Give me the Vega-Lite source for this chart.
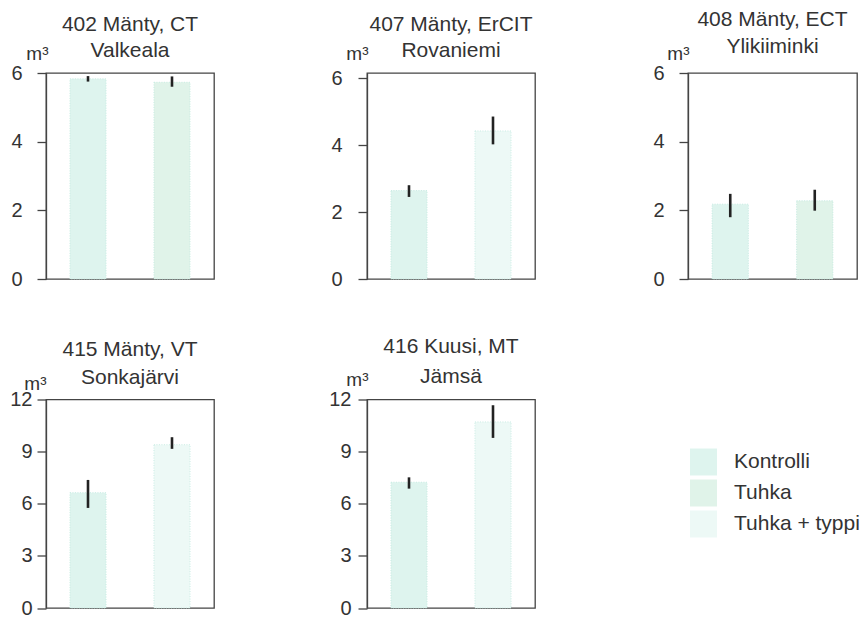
{
  "$schema": "https://vega.github.io/schema/vega-lite/v6.json",
  "padding": {"left": 9, "top": 8, "right": 0, "bottom": 0},
  "background": "white",
  "config": {
    "font": "Liberation Sans",
    "view": {"stroke": "#444444", "strokeWidth": 1.3},
    "axisY": {"grid": false, "tickSize": 9, "tickColor": "#444444", "tickWidth": 1.3, "domainColor": "#444444", "domainWidth": 1.3, "labelFontSize": 20, "labelColor": "#333333", "labelFont": "Liberation Sans", "titleFont": "Liberation Sans", "titleFontSize": 19, "titleFontWeight": "normal", "titleColor": "#333333", "titleAngle": 0, "titleAlign": "right", "titleBaseline": "alphabetic"},
    "title": {"fontSize": 21, "font": "Liberation Sans", "fontWeight": "normal", "color": "#333333", "frame": "group", "anchor": "middle"}
  },
  "datasets": {
    "bars": [
      {"site": "402", "treatment": "Kontrolli", "value": 5.83, "lo": 5.75, "hi": 5.91},
      {"site": "402", "treatment": "Tuhka", "value": 5.73, "lo": 5.6, "hi": 5.9},
      {"site": "407", "treatment": "Kontrolli", "value": 2.64, "lo": 2.45, "hi": 2.8},
      {"site": "407", "treatment": "Tuhka + typpi", "value": 4.42, "lo": 4.02, "hi": 4.85},
      {"site": "408", "treatment": "Kontrolli", "value": 2.18, "lo": 1.8, "hi": 2.48},
      {"site": "408", "treatment": "Tuhka", "value": 2.28, "lo": 1.99, "hi": 2.6},
      {"site": "415", "treatment": "Kontrolli", "value": 6.64, "lo": 5.76, "hi": 7.37},
      {"site": "415", "treatment": "Tuhka + typpi", "value": 9.4, "lo": 9.16, "hi": 9.83},
      {"site": "416", "treatment": "Kontrolli", "value": 7.24, "lo": 6.87, "hi": 7.52},
      {"site": "416", "treatment": "Tuhka + typpi", "value": 10.71, "lo": 9.79, "hi": 11.67}
    ],
    "legend": [
      {"treatment": "Kontrolli"},
      {"treatment": "Tuhka"},
      {"treatment": "Tuhka + typpi"}
    ]
  },
  "bounds": "flush",
  "columns": 3,
  "spacing": {"row": 120.5, "column": 153},
  "concat": [
    {
      "width": 168, "height": 206,
      "title": {"text": ["402 Mänty, CT", "Valkeala"], "lineHeight": 26, "offset": -16.5},
      "data": {"name": "bars"},
      "transform": [{"filter": "datum.site == '402'"}],
      "encoding": {"x": {"field": "treatment", "type": "nominal", "axis": null, "scale": {"paddingInner": 0.57, "paddingOuter": 0.285}}},
      "layer": [
        {"mark": {"type": "bar", "stroke": "#bfe9de", "strokeWidth": 0.8, "strokeDash": [1, 1.5]},
         "encoding": {"y": {"field": "value", "type": "quantitative", "scale": {"domain": [0, 6], "nice": false}, "axis": {"values": [0, 2, 4, 6], "title": "m³", "titleX": 2, "titleY": -14, "labelPadding": 15}},
          "fill": {"field": "treatment", "type": "nominal", "legend": null, "scale": {"domain": ["Kontrolli", "Tuhka", "Tuhka + typpi"], "range": ["#def4ee", "#e0f3e9", "#edf9f6"]}}}},
        {"mark": {"type": "rule", "color": "#222222", "strokeWidth": 2.6},
         "encoding": {"y": {"field": "lo", "type": "quantitative"}, "y2": {"field": "hi"}}}
      ]
    },
    {
      "width": 168, "height": 206,
      "title": {"text": ["407 Mänty, ErCIT", "Rovaniemi"], "lineHeight": 26, "offset": -16.5},
      "data": {"name": "bars"},
      "transform": [{"filter": "datum.site == '407'"}],
      "encoding": {"x": {"field": "treatment", "type": "nominal", "axis": null, "scale": {"paddingInner": 0.57, "paddingOuter": 0.285}}},
      "layer": [
        {"mark": {"type": "bar", "stroke": "#bfe9de", "strokeWidth": 0.8, "strokeDash": [1, 1.5]},
         "encoding": {"y": {"field": "value", "type": "quantitative", "scale": {"domain": [0, 6.15], "nice": false}, "axis": {"values": [0, 2, 4, 6], "title": "m³", "titleX": 1, "titleY": -14, "labelPadding": 16}},
          "fill": {"field": "treatment", "type": "nominal", "legend": null, "scale": {"domain": ["Kontrolli", "Tuhka", "Tuhka + typpi"], "range": ["#def4ee", "#e0f3e9", "#edf9f6"]}}}},
        {"mark": {"type": "rule", "color": "#222222", "strokeWidth": 2.6},
         "encoding": {"y": {"field": "lo", "type": "quantitative"}, "y2": {"field": "hi"}}}
      ]
    },
    {
      "width": 169, "height": 206,
      "title": {"text": ["408 Mänty, ECT", "Ylikiiminki"], "lineHeight": 26.5, "offset": -12.5},
      "data": {"name": "bars"},
      "transform": [{"filter": "datum.site == '408'"}],
      "encoding": {"x": {"field": "treatment", "type": "nominal", "axis": null, "scale": {"paddingInner": 0.57, "paddingOuter": 0.285}}},
      "layer": [
        {"mark": {"type": "bar", "stroke": "#bfe9de", "strokeWidth": 0.8, "strokeDash": [1, 1.5]},
         "encoding": {"y": {"field": "value", "type": "quantitative", "scale": {"domain": [0, 6], "nice": false}, "axis": {"values": [0, 2, 4, 6], "title": "m³", "titleX": 1, "titleY": -14, "labelPadding": 15}},
          "fill": {"field": "treatment", "type": "nominal", "legend": null, "scale": {"domain": ["Kontrolli", "Tuhka", "Tuhka + typpi"], "range": ["#def4ee", "#e0f3e9", "#edf9f6"]}}}},
        {"mark": {"type": "rule", "color": "#222222", "strokeWidth": 2.6},
         "encoding": {"y": {"field": "lo", "type": "quantitative"}, "y2": {"field": "hi"}}}
      ]
    },
    {
      "width": 168, "height": 208.5,
      "title": {"text": ["415 Mänty, VT", "Sonkajärvi"], "lineHeight": 28, "offset": -14.2},
      "data": {"name": "bars"},
      "transform": [{"filter": "datum.site == '415'"}],
      "encoding": {"x": {"field": "treatment", "type": "nominal", "axis": null, "scale": {"paddingInner": 0.57, "paddingOuter": 0.285}}},
      "layer": [
        {"mark": {"type": "bar", "stroke": "#bfe9de", "strokeWidth": 0.8, "strokeDash": [1, 1.5]},
         "encoding": {"y": {"field": "value", "type": "quantitative", "scale": {"domain": [0, 12], "nice": false}, "axis": {"values": [0, 3, 6, 9, 12], "title": "m³", "titleX": 0, "titleY": -10.5, "labelPadding": 5}},
          "fill": {"field": "treatment", "type": "nominal", "legend": null, "scale": {"domain": ["Kontrolli", "Tuhka", "Tuhka + typpi"], "range": ["#def4ee", "#e0f3e9", "#edf9f6"]}}}},
        {"mark": {"type": "rule", "color": "#222222", "strokeWidth": 2.6},
         "encoding": {"y": {"field": "lo", "type": "quantitative"}, "y2": {"field": "hi"}}}
      ]
    },
    {
      "width": 168, "height": 208.5,
      "title": {"text": ["416 Kuusi, MT", "Jämsä"], "lineHeight": 30, "offset": -15.8},
      "data": {"name": "bars"},
      "transform": [{"filter": "datum.site == '416'"}],
      "encoding": {"x": {"field": "treatment", "type": "nominal", "axis": null, "scale": {"paddingInner": 0.57, "paddingOuter": 0.285}}},
      "layer": [
        {"mark": {"type": "bar", "stroke": "#bfe9de", "strokeWidth": 0.8, "strokeDash": [1, 1.5]},
         "encoding": {"y": {"field": "value", "type": "quantitative", "scale": {"domain": [0, 12], "nice": false}, "axis": {"values": [0, 3, 6, 9, 12], "title": "m³", "titleX": 1, "titleY": -13.8, "labelPadding": 7}},
          "fill": {"field": "treatment", "type": "nominal", "legend": null, "scale": {"domain": ["Kontrolli", "Tuhka", "Tuhka + typpi"], "range": ["#def4ee", "#e0f3e9", "#edf9f6"]}}}},
        {"mark": {"type": "rule", "color": "#222222", "strokeWidth": 2.6},
         "encoding": {"y": {"field": "lo", "type": "quantitative"}, "y2": {"field": "hi"}}}
      ]
    },
    {
      "width": 31, "height": 186,
      "view": {"stroke": null},
      "data": {"name": "legend"},
      "encoding": {"y": {"field": "treatment", "type": "nominal", "axis": null, "scale": {"type": "point", "range": [62.5, 124.5], "padding": 0}}},
      "layer": [
        {"mark": {"type": "point", "shape": "square", "size": 729, "filled": true, "opacity": 1, "strokeWidth": 0},
         "encoding": {"fill": {"field": "treatment", "type": "nominal", "legend": null, "scale": {"domain": ["Kontrolli", "Tuhka", "Tuhka + typpi"], "range": ["#def4ee", "#e0f3e9", "#edf9f6"]}}}},
        {"mark": {"type": "text", "align": "left", "baseline": "middle", "dx": 30.5, "fontSize": 21, "font": "Liberation Sans", "color": "#333333"},
         "encoding": {"text": {"field": "treatment"}}}
      ]
    }
  ]
}
